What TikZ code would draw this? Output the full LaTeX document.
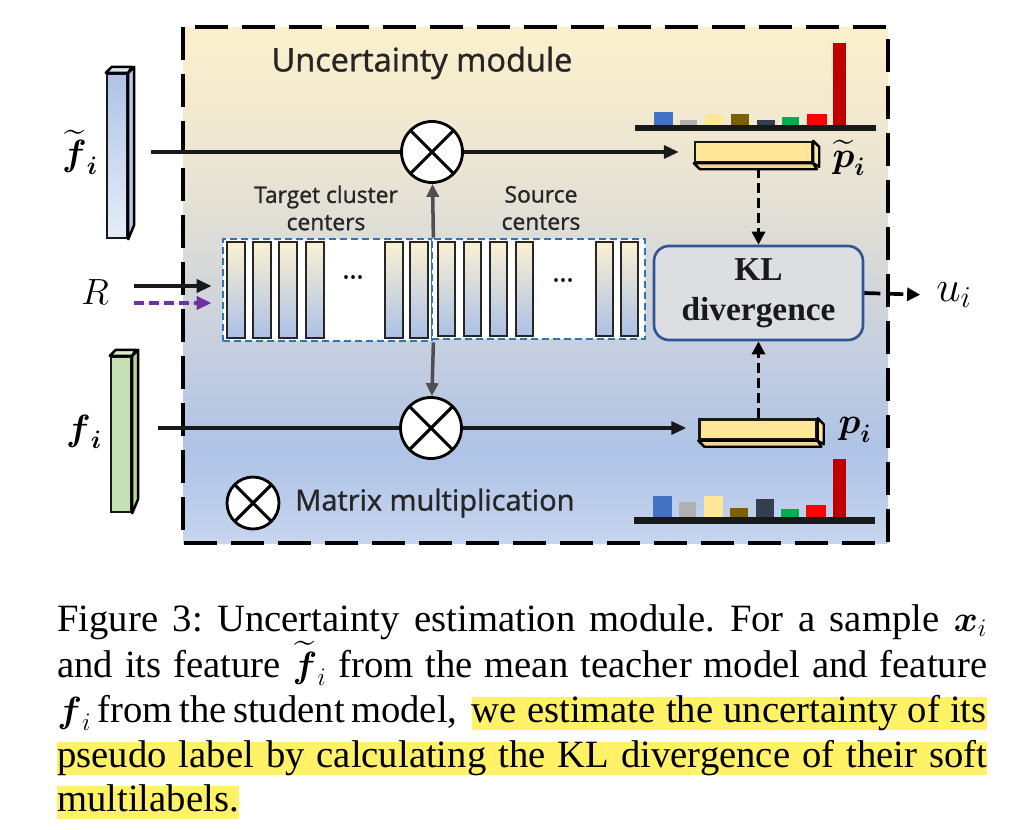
\documentclass[tikz,border=0pt]{standalone}
\usepackage{amsmath}
\usepackage{fontspec}
\setmainfont{Liberation Serif}
\newfontfamily\diagsans[FakeBold=1.2]{Open Sans}
\usetikzlibrary{arrows.meta, positioning, calc}

\definecolor{bgtop}{HTML}{FCF0CC}
\definecolor{bgwarm}{HTML}{EAE4D2}
\definecolor{bgmid}{HTML}{CDD3DD}
\definecolor{bgblue}{HTML}{AEC3E6}
\definecolor{bgbot}{HTML}{C6D5EF}
\definecolor{colt}{HTML}{FBF1D2}
\definecolor{colm}{HTML}{D6DBE0}
\definecolor{colb}{HTML}{ABC0E6}
\definecolor{cbblue}{HTML}{2E75B6}
\definecolor{klblue}{HTML}{2F5597}
\definecolor{klfill}{HTML}{DCDEE2}
\definecolor{arrgray}{HTML}{4F4F4F}
\definecolor{rpurple}{HTML}{7030A0}
\definecolor{barfront}{HTML}{FFE699}
\definecolor{barside}{HTML}{F2D68C}
\definecolor{fblue}{HTML}{AFC3E6}
\definecolor{fbluel}{HTML}{E6EDF9}
\definecolor{fblues}{HTML}{B9C9E6}
\definecolor{fbluet}{HTML}{DCE5F4}
\definecolor{fgreen}{HTML}{C5E0B4}
\definecolor{fgreens}{HTML}{B4D69E}
\definecolor{fgreent}{HTML}{D8EBCB}
\definecolor{hblue}{HTML}{4472C4}
\definecolor{hgray}{HTML}{B0B0B0}
\definecolor{hyellow}{HTML}{FFE699}
\definecolor{hbrown}{HTML}{7F6000}
\definecolor{hdark}{HTML}{333F50}
\definecolor{hgreen}{HTML}{00B050}
\definecolor{hred}{HTML}{FF0000}
\definecolor{hdred}{HTML}{C00000}
\definecolor{hilite}{HTML}{FFF266}
\definecolor{dtext}{HTML}{262626}

% the path covers 25bp..75bp of the shading
\pgfdeclareverticalshading{modshade}{100bp}{color(0bp)=(bgbot); color(25bp)=(bgbot); color(34bp)=(bgblue); color(47bp)=(bgmid); color(61bp)=(bgwarm); color(75bp)=(bgtop); color(100bp)=(bgtop)}

\frenchspacing
\begin{document}
\begin{tikzpicture}[x=0.02cm, y=-0.02cm,
    mline/.style={line width=2pt, draw=black!90},
    tip/.style={-{Triangle[length=0.3cm, width=0.26cm]}},
    garrow/.style={line width=2pt, draw=arrgray, -{Triangle[length=0.26cm, width=0.24cm]}},
    darrow/.style={line width=2.1pt, dash pattern=on 0.2cm off 0.1cm, -{Triangle[length=0.26cm, width=0.26cm]}},
    parrow/.style={line width=2pt, draw=rpurple, fill=rpurple, dash pattern=on 0.2cm off 0.1cm, -{Triangle[length=0.3cm, width=0.26cm]}},
    mult/.style={circle, draw, line width=1.6pt, fill=white, minimum size=1.22cm, inner sep=0pt,
        path picture={\draw[line width=1.8pt] (path picture bounding box.north west) -- (path picture bounding box.south east)
            (path picture bounding box.north east) -- (path picture bounding box.south west);}},
    cbox/.style={draw=cbblue, line width=1.6pt, dash pattern=on 0.14cm off 0.08cm, fill=white, inner sep=0pt},
    colbar/.style={draw=black!85, line width=1.4pt, top color=colt, middle color=colm, bottom color=colb},
    pbar/.style={draw=black!90, line width=1.4pt, fill=barfront, inner sep=0pt, minimum width=2.34cm, minimum height=0.4cm},
    klbox/.style={draw=klblue, line width=1.5pt, fill=klfill, rounded corners=0.3cm, align=center,
        font=\fontsize{19}{23}\selectfont\bfseries, text=black!90},
    sanslabel/.style={font=\diagsans\fontsize{13}{15.5}\selectfont, text=dtext, align=center},
    mathlabel/.style={font=\fontsize{22}{26}\selectfont},
    capt/.style={font=\fontsize{22}{26}\selectfont, inner sep=0pt}]

\useasboundingbox (0,0) rectangle (1017,829);

% module background
\draw[line width=2pt, dash pattern=on 0.66cm off 0.28cm, shading=modshade] (183,27) rectangle (888,543);
\node[font=\diagsans\fontsize{18.5}{22}\selectfont, text=dtext] (title) at (422,63) {Uncertainty module};

% cluster centers
\node[cbox, minimum width=4.18cm, minimum height=2.04cm] (tc) at (327.5,290) {};
\node[cbox, minimum width=4.26cm, minimum height=2cm] (sc) at (538.5,289) {};
\foreach \x in {227,253,279,306,385,410}
    \draw[colbar] (\x,242) rectangle ++(18,96);
\foreach \x in {438,464,490,516,596,621}
    \draw[colbar] (\x,242) rectangle ++(17,94);
\node[font=\diagsans\fontsize{15}{15}\selectfont] (tdots) at (353,277) {...};
\node[font=\diagsans\fontsize{15}{15}\selectfont] (sdots) at (563,280) {...};
\node[sanslabel] (tlab) at (326,208) {Target cluster\\centers};
\node[sanslabel] (slab) at (541,208) {Source\\centers};

% features
\node[draw=black!90, line width=1.4pt, top color=fblue, bottom color=fbluel, minimum width=0.4cm, minimum height=3.28cm, inner sep=0pt] (ft) at (117,156) {};
\draw[line width=1.4pt, fill=fbluet, line join=round] (ft.north west) -- ++(6,-6) -- ++(20,0) -- (ft.north east) -- cycle;
\draw[line width=1.4pt, fill=fblues, line join=round] (ft.north east) -- ++(6,-6) -- ++(0,158) -- (ft.south east) -- cycle;
\node[mathlabel] (ftl) at (80,152) {$\widetilde{\boldsymbol{f}}_{\boldsymbol{i}}$};

\node[draw=black!90, line width=1.4pt, fill=fgreen, minimum width=0.4cm, minimum height=3.1cm, inner sep=0pt] (fs) at (121,434.5) {};
\draw[line width=1.4pt, fill=fgreent, line join=round] (fs.north west) -- ++(6,-6) -- ++(20,0) -- (fs.north east) -- cycle;
\draw[line width=1.4pt, fill=fgreens, line join=round] (fs.north east) -- ++(6,-6) -- ++(0,149) -- (fs.south east) -- cycle;
\node[mathlabel] (fsl) at (84,432) {$\boldsymbol{f}_{\boldsymbol{i}}$};

% multiplications
\node[mult] (mt) at (432,152) {};
\node[mult] (mb) at (431,428) {};

% soft labels
\node[pbar] (pt) at (753.5,152) {};
\draw[line width=1.4pt, fill=barside, line join=round] (pt.south west) -- ++(6,6) -- ++(117,0) -- (pt.south east) -- cycle;
\draw[line width=1.4pt, fill=barfront, line join=round] (pt.north east) -- ++(6,6) -- ++(0,20) -- (pt.south east) -- cycle;
\node[mathlabel] (ptl) at (849,158) {$\widetilde{\boldsymbol{p}}_{\boldsymbol{i}}$};

\node[pbar] (pb) at (758,429.5) {};
\draw[line width=1.4pt, fill=barside, line join=round] (pb.south west) -- ++(6,6) -- ++(117,0) -- (pb.south east) -- cycle;
\draw[line width=1.4pt, fill=barfront, line join=round] (pb.north east) -- ++(6,6) -- ++(0,20) -- (pb.south east) -- cycle;
\node[mathlabel] (pbl) at (855,430) {$\boldsymbol{p}_{\boldsymbol{i}}$};

% KL
\node[klbox, minimum width=4.18cm, minimum height=1.88cm] (kl) at (758.5,293) {KL\\divergence};
\node[font=\fontsize{23}{26}\selectfont] (ui) at (954,295) {$u_i$};

% connectors
\draw[mline, shorten <=0.46cm] (ft.east |- mt) -- (mt);
\draw[mline, tip, shorten >=0.3cm] (mt) -- (pt);
\draw[mline, shorten <=0.52cm] (fs.east |- mb) -- (mb);
\draw[mline, tip, shorten >=0.24cm] (mb) -- (mb -| pb.west);
\draw[garrow] (tc.north east) -- (mt);
\draw[garrow] (tc.south east) -- (mb);
\draw[darrow, shorten <=0.1cm] (kl.north |- pt.south) -- (kl.north);
\draw[darrow] (kl.south |- pb.north) -- (kl.south);
\draw[darrow, dash pattern=on 0.32cm off 0.14cm, shorten >=0.2cm] (kl.east) -- (ui.west);

% R input
\node[font=\fontsize{22}{26}\selectfont] (rl) at (95,292) {$R$};
\coordinate (rs) at (134,286);
\coordinate (rp) at (134,303);
\draw[mline, tip, shorten >=0.2cm] (rs) -- (tc.west |- rs);
\draw[parrow, shorten >=0.2cm] (rp) -- (tc.west |- rp);

% histograms
\fill[black!90] (635,125) rectangle (876,131);
\foreach \xa/\xb/\yt/\c in {654/673/112/hblue, 680/697/120/hgray, 705/723/114/hyellow, 731/749/114/hbrown,
    757/775/120/hdark, 782/799/117/hgreen, 807/827/114/hred, 833/846/43/hdred}
    \fill[\c] (\xa,\yt) rectangle (\xb,125);
\fill[black!90] (634,517) rectangle (875,524);
\foreach \xa/\xb/\yt/\c in {653/672/496/hblue, 679/696/502/hgray, 704/723/496/hyellow, 730/748/508/hbrown,
    756/774/499/hdark, 781/799/509/hgreen, 806/826/505/hred, 833/846/459/hdred}
    \fill[\c] (\xa,\yt) rectangle (\xb,517);

% legend
\node[mult, minimum size=1.04cm] (lg) at (253,503) {};
\node[font=\diagsans\fontsize{16.5}{19}\selectfont, text=dtext, anchor=west] (lgt) at (289,503) {Matrix multiplication};

% caption
\node[capt, anchor=base west] (c1) at (57,631) {\makebox[18.6cm][s]{Figure 3: Uncertainty estimation module. For a sample $\boldsymbol{x}_i$}};
\node[capt, anchor=base west] (c2) at (57,677) {\makebox[18.6cm][s]{and its feature $\widetilde{\boldsymbol{f}}_i$ from the mean teacher model and feature}};
\node[capt, anchor=base west] (c3a) at (57,722) {\makebox[8.0cm][s]{$\boldsymbol{f}_i$ from the student model,}};
\node[capt, anchor=base east, fill=hilite, text height=0.5cm, text depth=0.16cm] (c3b) at (987,722) {\makebox[10.3cm][s]{we estimate the uncertainty of its}};
\node[capt, anchor=base west, fill=hilite, text height=0.5cm, text depth=0.16cm] (c4) at (57,767) {\makebox[18.6cm][s]{pseudo label by calculating the KL divergence of their soft}};
\node[capt, anchor=base west, fill=hilite, text height=0.5cm, text depth=0.16cm] (c5) at (57,811) {multilabels.};

\end{tikzpicture}
\end{document}
